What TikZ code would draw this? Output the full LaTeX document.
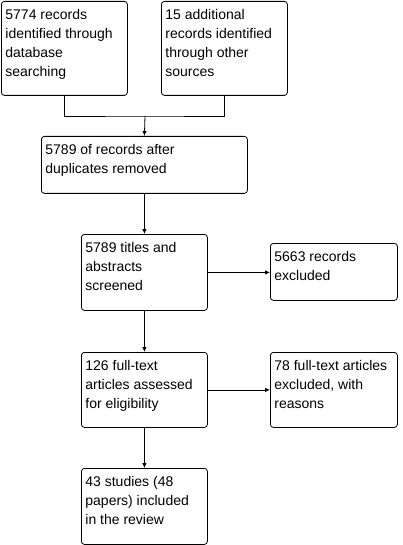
\documentclass[tikz,border=0pt]{standalone}
\usepackage{fontspec}
\setmainfont{Liberation Sans}
\usetikzlibrary{arrows.meta}
\newcommand{\bxt}[3]{\parbox[c][#2pt][t]{#1pt}{\raggedright\vspace*{8pt}#3}}
\tikzset{
  flowbox/.style={draw, line width=0.8pt, rounded corners=3pt, inner sep=0pt, anchor=north west,
    font=\fontsize{14}{19}\selectfont},
  arr/.style={line width=0.8pt, -{Latex[length=5pt,width=4.5pt]}},
  ln/.style={line width=0.8pt}
}
\begin{document}
\begin{tikzpicture}[x=1pt,y=-1pt]
\useasboundingbox (0,0) rectangle (402,545);
\node[flowbox] (b1) at (1,1) {\hspace{4pt}\bxt{122}{94}{5774 records\\identified through\\database\\searching}};
\node[flowbox] (b2) at (161,1) {\hspace{4pt}\bxt{122}{94}{15 additional\\records identified\\through other\\sources}};
\node[flowbox] (b3) at (41,136) {\hspace{4pt}\bxt{202}{57}{5789 of records after\\duplicates removed}};
\node[flowbox] (b4) at (81,234) {\hspace{4pt}\bxt{122}{76}{5789 titles and\\abstracts\\screened}};
\node[flowbox] (b5) at (270,243) {\hspace{4pt}\bxt{123}{57}{5663 records\\excluded}};
\node[flowbox] (b6) at (81,352) {\hspace{4pt}\bxt{122}{75}{126 full-text\\articles assessed\\for eligibility}};
\node[flowbox] (b7) at (270,352) {\hspace{4pt}\bxt{123}{75}{78 full-text articles\\excluded, with\\reasons}};
\node[flowbox] (b8) at (81,468) {\hspace{4pt}\bxt{122}{76}{43 studies (48\\papers) included\\in the review}};
\coordinate (j) at (145,116);
\draw[ln] (b1.south) |- (j) -| (b2.south);
\draw[arr] (j) -- (b3.north);
\draw[arr] (b3.south) -- (b4.north);
\draw[arr] (b4.east) -- (b4.east -| b5.west);
\draw[arr] (b4.south) -- (b6.north);
\draw[arr] (b6.east) -- (b7.west);
\draw[arr] (b6.south) -- (b8.north);
\end{tikzpicture}
\end{document}
